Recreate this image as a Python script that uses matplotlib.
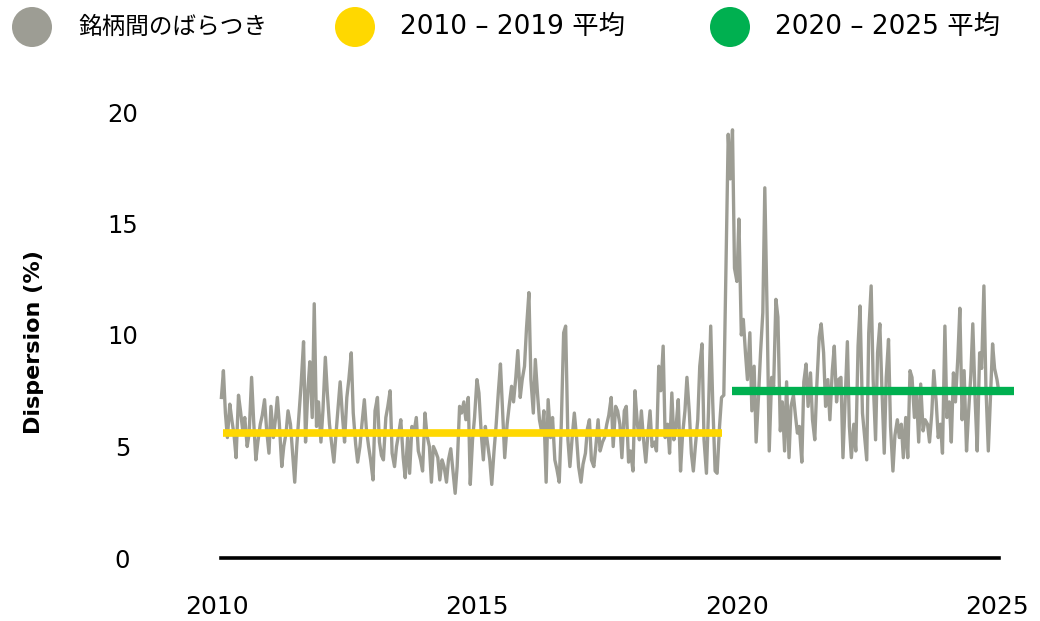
import matplotlib
matplotlib.use("Agg")
from matplotlib import pyplot as plt
import pandas as pd

# dispersion (%), one value every half month from Feb 2010
disp_2010_2012 = [7.2, 8.4, 6.5, 5.4, 6.9, 6.2, 5.5, 4.5, 7.3, 6.6, 5.7, 6.3, 5.0, 5.6, 8.1, 6.2, 4.4, 5.2, 6.0, 6.4, 7.1, 5.8, 4.7, 6.8,
                  5.4, 6.2, 7.2, 6.0, 4.1, 5.0, 5.6, 6.6, 6.0, 4.8, 3.4, 5.0, 6.5, 7.8, 9.7, 5.2, 7.5, 8.8, 6.3, 11.4, 5.9, 7.0, 5.2, 6.6,
                  9.0, 7.4, 6.0, 5.2, 4.3, 5.5, 6.8, 7.9, 6.3, 5.2, 7.2, 8.0, 9.2, 6.5, 5.1, 4.3, 5.0, 6.0, 7.1, 5.8, 5.0, 4.4, 3.5, 6.6]
disp_2013_2015 = [7.2, 5.2, 4.6, 4.4, 6.3, 6.8, 7.5, 4.7, 4.1, 5.0, 5.6, 6.2, 4.5, 3.6, 5.4, 3.8, 5.9, 5.6, 6.3, 4.8, 4.4, 3.9, 6.5, 5.5,
                  5.0, 3.4, 5.0, 4.8, 4.5, 3.5, 4.4, 4.1, 3.4, 4.4, 4.9, 4.0, 2.9, 4.1, 6.8, 6.5, 7.0, 6.2, 7.2, 3.3, 5.3, 6.3, 8.0, 7.4,
                  5.5, 4.4, 5.9, 5.2, 4.4, 3.3, 4.8, 5.9, 7.5, 8.7, 6.5, 4.5, 6.0, 6.8, 7.7, 7.0, 8.1, 9.3, 7.2, 8.0, 8.6, 10.3, 11.9, 8.0]
disp_2016_2018 = [6.5, 8.9, 7.4, 6.2, 5.6, 6.6, 3.4, 7.1, 5.4, 6.3, 4.4, 4.0, 3.4, 5.9, 10.1, 10.4, 5.3, 4.1, 5.5, 6.5, 5.4, 4.1, 3.4, 4.2,
                  4.7, 5.8, 6.2, 4.4, 4.1, 5.0, 6.2, 4.8, 5.2, 5.4, 6.0, 6.4, 7.2, 5.0, 6.8, 6.6, 6.0, 4.5, 6.6, 6.8, 4.3, 4.8, 3.9, 7.5,
                  6.0, 5.3, 6.6, 5.4, 4.3, 5.5, 6.6, 5.0, 5.2, 4.8, 8.6, 7.5, 9.5, 5.4, 6.0, 4.7, 7.4, 5.3, 6.0, 7.1, 3.9, 5.5, 6.6]
disp_2019_2021 = [8.1, 6.5, 4.7, 3.9, 5.0, 6.2, 8.6, 9.6, 5.3, 3.8, 6.5, 10.4, 7.0, 3.9, 3.8, 5.9, 7.2, 7.3,
                  12.6, 19.0, 17.0, 19.2, 13.0, 12.4, 15.2, 10.0, 10.7, 9.2, 8.0, 10.1, 6.6, 8.6, 5.2, 7.3, 9.2, 11.0, 16.6, 10.7, 4.8, 8.1, 7.7, 11.6,
                  10.8, 5.7, 7.0, 4.8, 7.9, 4.5, 6.8, 7.3, 6.4, 5.6, 5.9, 4.3, 7.9, 8.7, 6.8, 8.3, 6.2, 5.3, 7.7, 9.9, 10.5, 9.2, 6.8, 8.0, 6.2, 8.4, 9.5, 7.0, 8.0]
disp_2022_2024 = [8.1, 4.5, 7.4, 9.7, 5.9, 4.5, 6.0, 4.8, 9.5, 11.3, 6.5, 5.5, 4.4, 10.1, 12.2, 8.0, 5.3, 9.2, 10.5, 7.7, 4.7, 8.1, 9.8, 5.9,
                  3.9, 5.5, 6.2, 5.4, 6.0, 4.5, 6.3, 4.5, 8.4, 8.1, 6.3, 7.4, 5.2, 7.8, 5.7, 6.2, 6.0, 5.2, 6.5, 8.4, 7.0, 5.4, 6.0, 4.7,
                  10.4, 6.3, 7.0, 5.2, 8.3, 7.0, 9.0, 11.2, 6.2, 8.4, 4.8, 6.5, 8.2, 10.5, 7.0, 4.8, 9.2, 8.5, 12.2, 7.7, 4.8, 7.0, 9.6, 8.5, 8.0, 7.4]

avg_2010_2019 = 5.6
avg_2020_2025 = 7.5
span_2010_2019 = ["2010-02-10", "2019-09-15"]
span_2020_2025 = ["2019-11-25", "2025-04-30"]

year_ticks = [2010, 2015, 2020, 2025]
y_ticks = [0, 5, 10, 15, 20]
labels = ["銘柄間のばらつき", "2010 – 2019 平均", "2020 – 2025 平均"]

GREY = "#9d9d94"
YELLOW = "#ffd800"
GREEN = "#00b050"


def main():
    dispersion = disp_2010_2012 + disp_2013_2015 + disp_2016_2018 + disp_2019_2021 + disp_2022_2024
    dates = pd.date_range("2010-02-01", periods=len(dispersion), freq="SMS")

    fig = plt.figure(figsize=(10.4, 6.21), dpi=100)
    ax = fig.add_axes([217 / 1040, 63 / 621, 780 / 1040, 446 / 621])

    ax.plot(dates, dispersion, color=GREY, lw=2.4, solid_joinstyle="round", clip_on=False, zorder=2)
    ax.plot(pd.to_datetime(span_2010_2019), [avg_2010_2019] * 2, color=YELLOW, lw=5.5,
            solid_capstyle="butt", clip_on=False, zorder=3)
    ax.plot(pd.to_datetime(span_2020_2025), [avg_2020_2025] * 2, color=GREEN, lw=6,
            solid_capstyle="butt", clip_on=False, zorder=3)
    ax.plot([dates[0], dates[-1]], [0, 0], color="black", lw=2.6, clip_on=False, zorder=4)

    ax.set_xlim(pd.Timestamp("2010-01-01"), pd.Timestamp("2025-01-01"))
    ax.set_ylim(0, 20)
    ax.set_xticks([pd.Timestamp(f"{y}-01-01") for y in year_ticks])
    ax.set_xticklabels([str(y) for y in year_ticks], fontsize=18, family="DejaVu Sans")
    ax.set_yticks(y_ticks)
    ax.set_yticklabels([str(v) for v in y_ticks], fontsize=17.5, family="DejaVu Sans")
    for lab in ax.get_yticklabels():
        lab.set_horizontalalignment("center")
    ax.tick_params(axis="y", length=0, pad=68)
    ax.tick_params(axis="x", length=0, pad=27)
    for s in ax.spines.values():
        s.set_visible(False)

    ax.set_ylabel("Dispersion (%)", fontsize=16, fontweight="bold", family="DejaVu Sans")
    ax.yaxis.set_label_coords(-0.222, 0.485)

    # legend row across the top, in pixel units
    lg = fig.add_axes([0, 0, 1, 1])
    lg.set_xlim(0, 1040)
    lg.set_ylim(621, 0)
    lg.axis("off")
    marks = [(32, GREY, 78, 17), (355, YELLOW, 400, 19), (730, GREEN, 775, 19)]
    for (cx, col, tx, fs), lab in zip(marks, labels):
        lg.scatter([cx], [27], s=830, color=col, edgecolors="none")
        lg.text(tx, 27, lab, fontsize=fs, va="center", ha="left",
                family=["DejaVu Sans", "Noto Sans CJK JP"])

    fig.savefig("out.png", dpi=100)


if __name__ == "__main__":
    main()
